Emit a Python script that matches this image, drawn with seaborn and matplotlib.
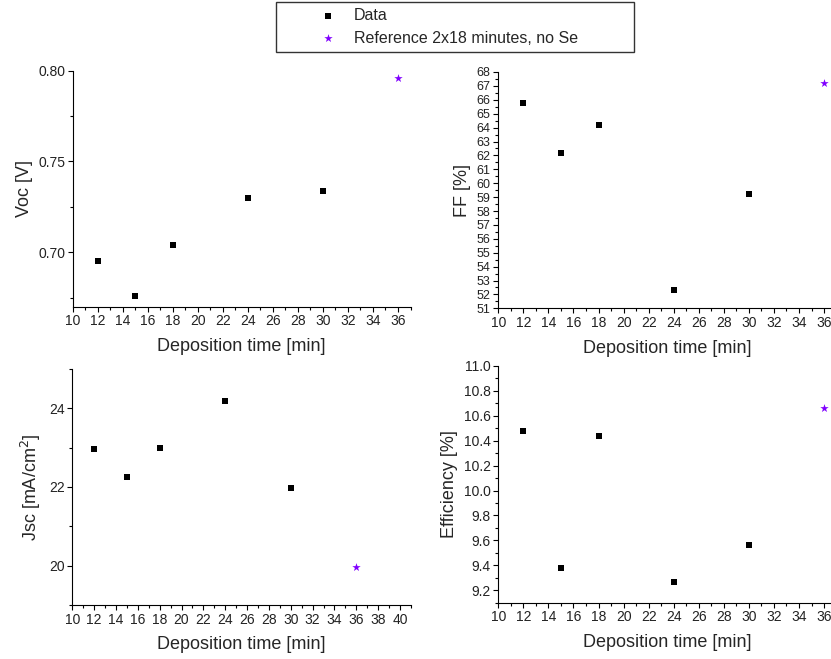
import matplotlib
matplotlib.use("Agg")
import matplotlib.pyplot as plt
from matplotlib.ticker import MultipleLocator, FormatStrFormatter
from matplotlib.patches import Rectangle
import seaborn as sns
import pandas as pd

# ---- data ----
minutes = [12, 15, 18, 24, 30]
ref_minutes = [36]
voc = [0.695, 0.676, 0.704, 0.730, 0.734]
ref_voc = [0.796]
ff = [65.8, 62.2, 64.2, 52.3, 59.2]
ref_ff = [67.2]
jsc = [22.97, 22.26, 22.99, 24.19, 21.98]
ref_jsc = [19.97]
eff = [10.48, 9.38, 10.44, 9.27, 9.56]
ref_eff = [10.66]

data_label = "Data"
ref_label = "Reference 2x18 minutes, no Se"
xlabel = "Deposition time [min]"

sns.set_style("ticks")
plt.rcParams['font.family'] = ['Liberation Sans', 'DejaVu Sans']

W, H = 831, 659
fig = plt.figure(figsize=(W / 100, H / 100), dpi=100)


def px_axes(left, top, right, bottom):
    return fig.add_axes([left / W, 1 - bottom / H, (right - left) / W, (bottom - top) / H])


panels = [
    # (axes px box, y data, ref, ylabel, ylim, xlim, major, minor, fmt, ticksize)
    ((72.7, 70.7, 410.5, 306.7), voc, ref_voc, "Voc [V]", (0.67, 0.80), (10, 37), 0.05, 0.025, "%.2f", 10),
    ((498.3, 72.0, 836.6, 308.3), ff, ref_ff, "FF [%]", (51, 68), (10, 37), 1, 0.5, "%d", 9),
    ((72.3, 369.0, 410.9, 605.0), jsc, ref_jsc, "Jsc [mA/cm$^2$]", (19, 25), (10, 41), 2, 1, "%d", 10),
    ((498.3, 366.0, 836.6, 602.7), eff, ref_eff, "Efficiency [%]", (9.1, 11.0), (10, 37), 0.2, 0.1, "%.1f", 10),
]

axes = []
for i, (box, yv, ref, ylab, ylim, xlim, maj, mnr, fmt, tsz) in enumerate(panels):
    ax = px_axes(*box)
    df = pd.DataFrame({"t": minutes, "v": yv})
    dref = pd.DataFrame({"t": ref_minutes, "v": ref})
    sns.scatterplot(data=df, x="t", y="v", ax=ax, marker="s", color="black",
                    s=22, linewidth=0, label=data_label, zorder=3, clip_on=False)
    sns.scatterplot(data=dref, x="t", y="v", ax=ax, marker="*", color="#8000ff",
                    s=40, linewidth=0, label=ref_label, zorder=3, clip_on=False)
    if ax.get_legend() is not None:
        ax.get_legend().remove()
    ax.set_xlim(*xlim)
    ax.set_ylim(*ylim)
    ax.xaxis.set_major_locator(MultipleLocator(2))
    ax.xaxis.set_minor_locator(MultipleLocator(1))
    ax.yaxis.set_major_locator(MultipleLocator(maj))
    ax.yaxis.set_minor_locator(MultipleLocator(mnr))
    ax.yaxis.set_major_formatter(FormatStrFormatter(fmt))
    ax.tick_params(axis="both", which="major", direction="out", length=3.5, width=0.8,
                   color="black", labelcolor="#222222", pad=2)
    ax.tick_params(axis="x", which="major", labelsize=10)
    ax.tick_params(axis="y", which="major", labelsize=tsz)
    ax.tick_params(axis="both", which="minor", direction="out", length=2, width=0.8, color="black")
    ax.set_xlabel(xlabel, fontsize=13, labelpad=7)
    ax.set_ylabel(ylab, fontsize=13, labelpad=4)
    for side in ("top", "right"):
        ax.spines[side].set_visible(False)
    for side in ("left", "bottom"):
        ax.spines[side].set_color("black")
        ax.spines[side].set_linewidth(0.8)
    ax.set_facecolor("white")
    axes.append(ax)

handles, labels = axes[0].get_legend_handles_labels()
fig.legend(handles, labels, loc="upper left", bbox_to_anchor=(320 / W, 1 - 8 / H),
           frameon=False, fontsize=11.5, borderpad=0, borderaxespad=0,
           handlelength=1.0, handletextpad=1.1, labelspacing=0.48)
fig.patches.append(Rectangle((276 / W, 1 - 52 / H), 358 / W, 50 / H,
                             transform=fig.transFigure, fill=False,
                             edgecolor="#333333", linewidth=1.0))

fig.savefig("out.png", dpi=100, facecolor="white")
